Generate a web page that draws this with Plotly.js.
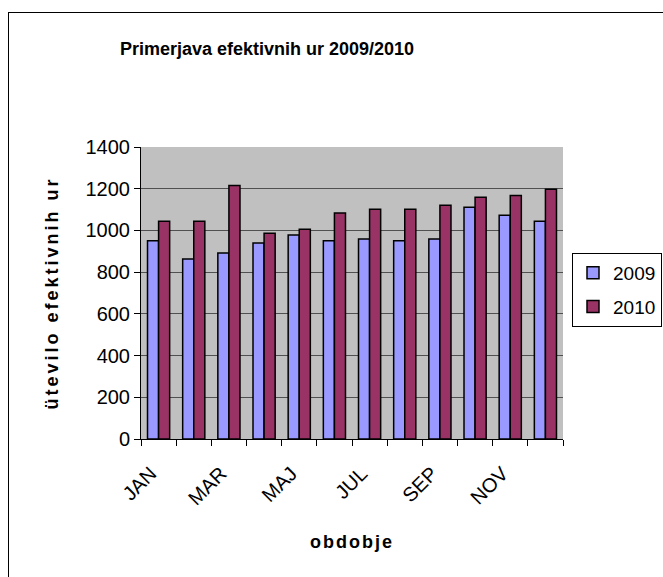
<!DOCTYPE html>
<html>
<head>
<meta charset="utf-8">
<script src="https://cdn.plot.ly/plotly-3.0.1.min.js"></script>
<style>
  body { margin: 0; overflow: hidden; background: #fff; }
  #chart { position: absolute; left: 0; top: 0; width: 663px; height: 577px; }
  #frame { position: absolute; left: 8px; top: 12px; width: 700px; height: 600px;
           border: 1px solid #000; pointer-events: none; }
  .g-ytitle text { letter-spacing: 3px; }
  .g-xtitle text { letter-spacing: 2px; }
</style>
</head>
<body>
<div id="chart"></div>
<div id="frame"></div>
<script>
// months of the period
var months = ['JAN', 'FEB', 'MAR', 'APR', 'MAJ', 'JUN', 'JUL', 'AVG', 'SEP', 'OKT', 'NOV', 'DEC'];
var shownLabels = ['JAN', '', 'MAR', '', 'MAJ', '', 'JUL', '', 'SEP', '', 'NOV', ''];

// effective hours per month
var hours2009 = [951, 863, 892, 940, 978, 951, 959, 951, 959, 1111, 1073, 1044];
var hours2010 = [1044, 1044, 1216, 987, 1006, 1084, 1102, 1102, 1121, 1159, 1168, 1197];

var font = 'Arial, "Liberation Sans", sans-serif';

var s2009 = {
    x: months,
    y: hours2009,
    name: '2009',
    legendgroup: 'a',
    type: 'bar',
    marker: { color: '#9999FF', line: { color: '#000', width: 1.5 } }
};

var s2010 = {
    x: months,
    y: hours2010,
    name: '2010',
    legendgroup: 'b',
    type: 'bar',
    marker: { color: '#993366', line: { color: '#000', width: 1.5 } }
};

var layout = {
    width: 663,
    height: 577,
    margin: { l: 141, r: 100, t: 147, b: 138 },
    paper_bgcolor: '#fff',
    plot_bgcolor: '#C0C0C0',
    font: { family: font, size: 20, color: '#000' },
    barmode: 'group',
    bargap: 0.37,
    bargroupgap: 0,
    title: {
        text: '<b>Primerjava efektivnih ur 2009/2010</b>',
        font: { size: 18 },
        x: 267 / 663, xanchor: 'center',
        y: 1 - 49 / 577, yanchor: 'middle'
    },
    xaxis: {
        type: 'category',
        tickvals: months,
        ticktext: shownLabels,
        tickangle: -45,
        tickson: 'boundaries',
        ticks: 'outside',
        ticklen: 6,
        tickcolor: '#000',
        ticklabelstandoff: 14,
        ticklabelshift: -8,
        showline: true,
        linecolor: '#000',
        linewidth: 1,
        showgrid: false,
        title: { text: '<b>obdobje</b>', font: { size: 18 }, standoff: 27 }
    },
    yaxis: {
        range: [0, 1400],
        dtick: 200,
        ticks: 'outside',
        ticklen: 6,
        tickcolor: '#000',
        showline: true,
        linecolor: '#000',
        linewidth: 1,
        gridcolor: '#505050',
        gridwidth: 1,
        zeroline: false,
        title: { text: '<b>ütevilo efektivnih ur</b>', font: { size: 18 }, standoff: 22 }
    },
    legend: {
        xref: 'container', yref: 'container',
        x: 572 / 663, xanchor: 'left',
        y: 1 - 253 / 577, yanchor: 'top',
        bordercolor: '#000',
        borderwidth: 1,
        bgcolor: '#fff',
        itemwidth: 30,
        tracegroupgap: 6,
        font: { size: 19 }
    },
    showlegend: true
};

Plotly.newPlot('chart', [s2009, s2010], layout, { staticPlot: true });
</script>
</body>
</html>
